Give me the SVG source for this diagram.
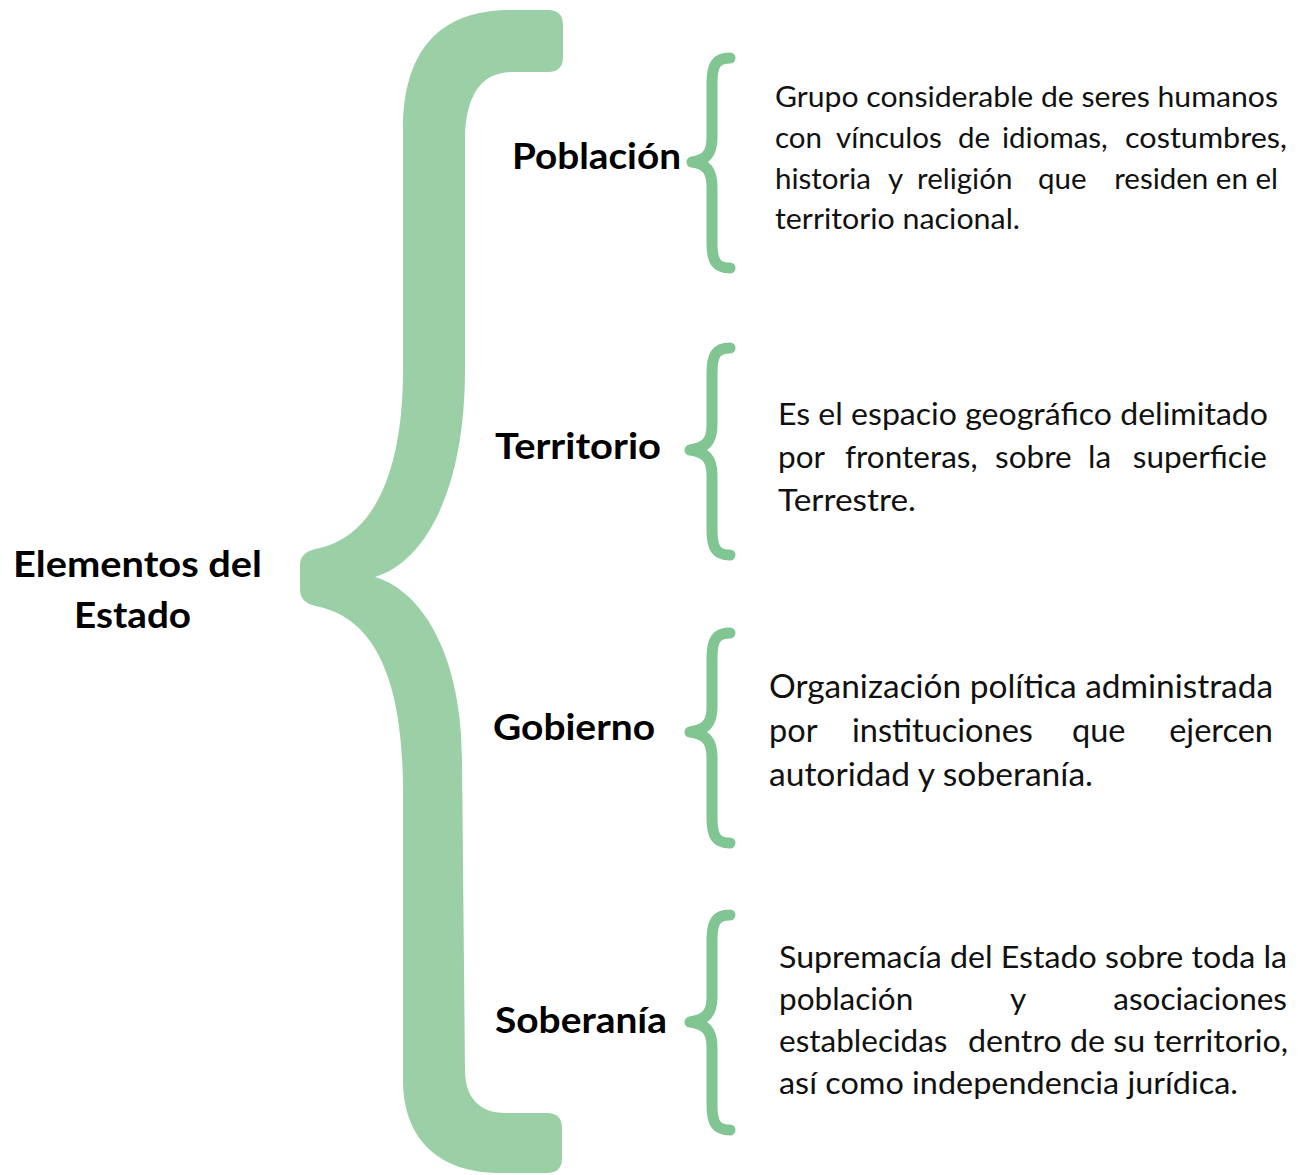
<svg xmlns="http://www.w3.org/2000/svg" width="1305" height="1175" viewBox="0 0 1305 1175">
<style>
.lbl{font-family:Lato,"Liberation Sans",sans-serif;font-weight:bold;font-size:37px;fill:#000}
.txt{font-family:Lato,"Liberation Sans",sans-serif;font-weight:normal;fill:#111}
.p{font-size:29.5px}
.t{font-size:31.5px}
.g{font-size:32.5px}
.s{font-size:31.5px}
.br{fill:none;stroke:#80C592;stroke-width:11;stroke-linecap:round;stroke-linejoin:round}
.big{fill:#9BCFA5;stroke:none}
</style>
<rect width="1305" height="1175" fill="#fff"/>
<g id="connectors">
<path class="big" d="M548 10 Q563 10 563 25 L563 57 Q563 72 548 72 L512 72 C482 72 465 95 465 140 L465 370 C465 490 425 562 375 577 C425 592 462 660 462 760 L465 1070 C465 1098 480 1113 505 1113 L547 1113 Q562 1113 562 1128 L562 1158 Q562 1173 547 1173 L500 1173 C440 1173 403 1140 403 1080 L403 790 C403 680 375 620 320 607 Q300 604 300 590 L300 565 Q300 551 320 548 C375 535 403 470 403 370 L403 130 C403 50 440 10 510 10 Z"/>
<path class="br" d="M730 58 C716 58 712 65 712 83 L712 137 C712 154 706 160 692 162 C706 164 712 170 712 187 L712 243 C712 261 716 268 730 268"/>
<path class="br" d="M730 348 C716 348 712 355 712 373 L712 425 C712 442 705 448 690 450 C705 452 712 458 712 475 L712 530 C712 548 716 555 730 555"/>
<path class="br" d="M730 633 C716 633 712 640 712 658 L712 707 C712 724 705 730 690 732 C705 734 712 740 712 757 L712 818 C712 836 716 843 730 843"/>
<path class="br" d="M730 915 C716 915 712 922 712 940 L712 997 C712 1014 705 1020 690 1022 C705 1024 712 1030 712 1047 L712 1105 C712 1123 716 1130 730 1130"/>
</g>
<g id="root">
<text class="lbl" x="13" y="577" textLength="249" lengthAdjust="spacingAndGlyphs">Elementos del</text>
<text class="lbl" x="74" y="628" textLength="117" lengthAdjust="spacingAndGlyphs">Estado</text>
</g>
<g id="poblacion">
<text class="lbl" x="512" y="169" textLength="169" lengthAdjust="spacingAndGlyphs">Población</text>
<text class="txt p" x="775" y="107" textLength="503" lengthAdjust="spacingAndGlyphs">Grupo considerable de seres humanos</text>
<text class="txt p" y="148"><tspan x="775">con</tspan><tspan x="836">vínculos</tspan><tspan x="958">de</tspan><tspan x="1002">idiomas,</tspan><tspan x="1125" textLength="162" lengthAdjust="spacingAndGlyphs">costumbres,</tspan></text>
<text class="txt p" y="189"><tspan x="775">historia</tspan><tspan x="888">y</tspan><tspan x="917">religión</tspan><tspan x="1038">que</tspan><tspan x="1278" text-anchor="end">residen en el</tspan></text>
<text class="txt p" x="775" y="229" textLength="245" lengthAdjust="spacingAndGlyphs">territorio nacional.</text>
</g>
<g id="territorio">
<text class="lbl" x="495" y="459" textLength="166" lengthAdjust="spacingAndGlyphs">Territorio</text>
<text class="txt t" x="778" y="425" textLength="490" lengthAdjust="spacingAndGlyphs">Es el espacio geográfico delimitado</text>
<text class="txt t" y="468"><tspan x="778">por</tspan><tspan x="845">fronteras,</tspan><tspan x="995">sobre</tspan><tspan x="1088">la</tspan><tspan x="1267" text-anchor="end">superficie</tspan></text>
<text class="txt t" x="778" y="511" textLength="138" lengthAdjust="spacingAndGlyphs">Terrestre.</text>
</g>
<g id="gobierno">
<text class="lbl" x="493" y="740" textLength="162" lengthAdjust="spacingAndGlyphs">Gobierno</text>
<text class="txt g" x="769" y="698" textLength="504" lengthAdjust="spacingAndGlyphs">Organización política administrada</text>
<text class="txt g" y="742"><tspan x="769">por</tspan><tspan x="852">instituciones</tspan><tspan x="1072">que</tspan><tspan x="1273" text-anchor="end">ejercen</tspan></text>
<text class="txt g" x="769" y="786" textLength="324" lengthAdjust="spacingAndGlyphs">autoridad y soberanía.</text>
</g>
<g id="soberania">
<text class="lbl" x="495" y="1033" textLength="172" lengthAdjust="spacingAndGlyphs">Soberanía</text>
<text class="txt s" x="779" y="968" textLength="508" lengthAdjust="spacingAndGlyphs">Supremacía del Estado sobre toda la</text>
<text class="txt s" y="1010"><tspan x="779">población</tspan><tspan x="1010">y</tspan><tspan x="1287" text-anchor="end">asociaciones</tspan></text>
<text class="txt s" y="1052"><tspan x="779">establecidas</tspan><tspan x="968" textLength="320" lengthAdjust="spacingAndGlyphs">dentro de su territorio,</tspan></text>
<text class="txt s" x="779" y="1094" textLength="459" lengthAdjust="spacingAndGlyphs">así como independencia jurídica.</text>
</g>
</svg>
